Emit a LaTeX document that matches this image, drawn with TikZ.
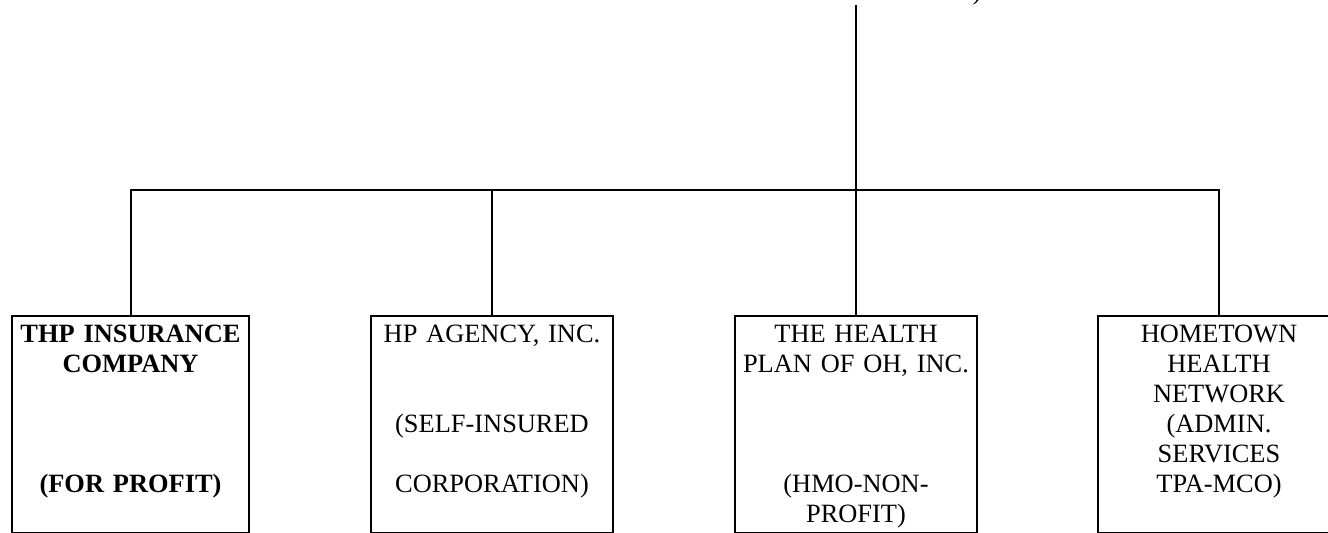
\documentclass[tikz,border=0pt]{standalone}
\usepackage{tikz}
\usetikzlibrary{positioning, calc}
\usepackage{fontspec}
\setmainfont{Liberation Serif}

\tikzset{
	company/.style={draw, line width=1pt, rectangle, anchor=north, align=center, inner xsep=2pt, inner ysep=0pt, text width=117pt, text height=13.5pt, text depth=95pt, font=\fontsize{13.2}{15}\selectfont},
	link/.style={line width=1pt}
}

\begin{document}
\begin{tikzpicture}[x=0.5pt, y=-0.5pt]
	\useasboundingbox (0,0) rectangle (1328,533);
	\node [anchor=base, font=\fontsize{13.2}{15}\selectfont] (parent) at (977,0) {)};
	\coordinate (top) at (856,5);
	\coordinate (bus) at (856,190);
	\node [company, text width=114.5pt, font=\fontsize{13.2}{15}\selectfont\bfseries] (thp) at (130.5,315) {THP INSURANCE\\COMPANY\\[45pt](FOR PROFIT)};
	\node [company] (agency) at (492,315) {HP AGENCY, INC.\\[30pt](SELF-INSURED\\[15pt]CORPORATION)};
	\node [company] (plan) at (856,315) {THE HEALTH\\PLAN OF OH, INC.\\[45pt](HMO-NON-\\PROFIT)};
	\node [company] (hometown) at (1219,315) {HOMETOWN\\HEALTH\\NETWORK\\(ADMIN.\\SERVICES\\TPA-MCO)};
	\draw [link] (top) -- (bus);
	\draw [link] (thp.north) |- (bus);
	\draw [link] (agency.north) |- (bus);
	\draw [link] (plan.north) -- (bus);
	\draw [link] (hometown.north) |- (bus);
\end{tikzpicture}
\end{document}
